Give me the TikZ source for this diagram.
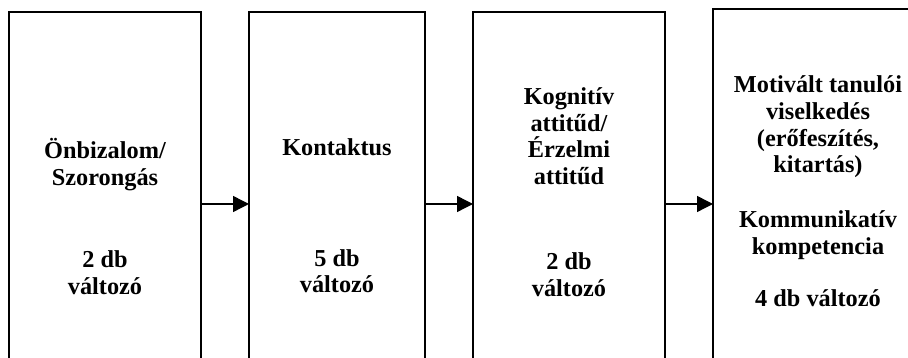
\documentclass[tikz,border=0pt]{standalone}
\usepackage{fontspec}
\setmainfont{Liberation Serif}
\usetikzlibrary{arrows.meta}
\tikzset{
  stage/.style={draw=black, line width=1.4pt, rectangle, inner sep=0pt, outer sep=0pt, anchor=north west},
  lbl/.style={anchor=base, inner sep=0pt, font=\fontsize{24.3}{27}\selectfont\bfseries},
  arr/.style={line width=1.4pt, -{Triangle[length=16pt, width=16pt]}}
}
\begin{document}
\begin{tikzpicture}[x=1pt, y=1pt]
  \useasboundingbox (0,0) rectangle (908,358);
  % the four stages (boxes run past the lower edge)
  \node[stage, minimum width=192pt, minimum height=370pt] (b1) at (9,346) {};
  \node[stage, minimum width=176pt, minimum height=370pt] (b2) at (249,346) {};
  \node[stage, minimum width=192pt, minimum height=370pt] (b3) at (473,346) {};
  \node[stage, line width=1.7pt, minimum width=210pt, minimum height=370pt] (b4) at (713,349) {};

  % stage 1
  \node[lbl] (s1a) at (105,199) {Önbizalom/};
  \node[lbl] (s1b) at (105,172) {Szorongás};
  \node[lbl] (s1c) at (105,90) {2 db};
  \node[lbl] (s1d) at (105,63) {változó};
  % stage 2
  \node[lbl] (s2a) at (337,202) {Kontaktus};
  \node[lbl] (s2c) at (337,91) {5 db};
  \node[lbl] (s2d) at (337,65) {változó};
  % stage 3
  \node[lbl] (s3a) at (569,253) {Kognitív};
  \node[lbl] (s3b) at (569,226) {attitűd/};
  \node[lbl] (s3c) at (569,200) {Érzelmi};
  \node[lbl] (s3d) at (569,173) {attitűd};
  \node[lbl] (s3e) at (569,88) {2 db};
  \node[lbl] (s3f) at (569,61) {változó};
  % stage 4
  \node[lbl] (s4a) at (818,265) {Motivált tanulói};
  \node[lbl] (s4b) at (818,238) {viselkedés};
  \node[lbl] (s4c) at (818,211) {(erőfeszítés,};
  \node[lbl] (s4d) at (818,185) {kitartás)};
  \node[lbl] (s4e) at (818,130) {Kommunikatív};
  \node[lbl] (s4f) at (818,103) {kompetencia};
  \node[lbl] (s4g) at (818,51) {4 db változó};

  % connectors
  \coordinate (lvl) at (0,154);
  \draw[arr] (b1.east |- lvl) -- (b2.west |- lvl);
  \draw[arr] (b2.east |- lvl) -- (b3.west |- lvl);
  \draw[arr] (b3.east |- lvl) -- (b4.west |- lvl);
\end{tikzpicture}
\end{document}
